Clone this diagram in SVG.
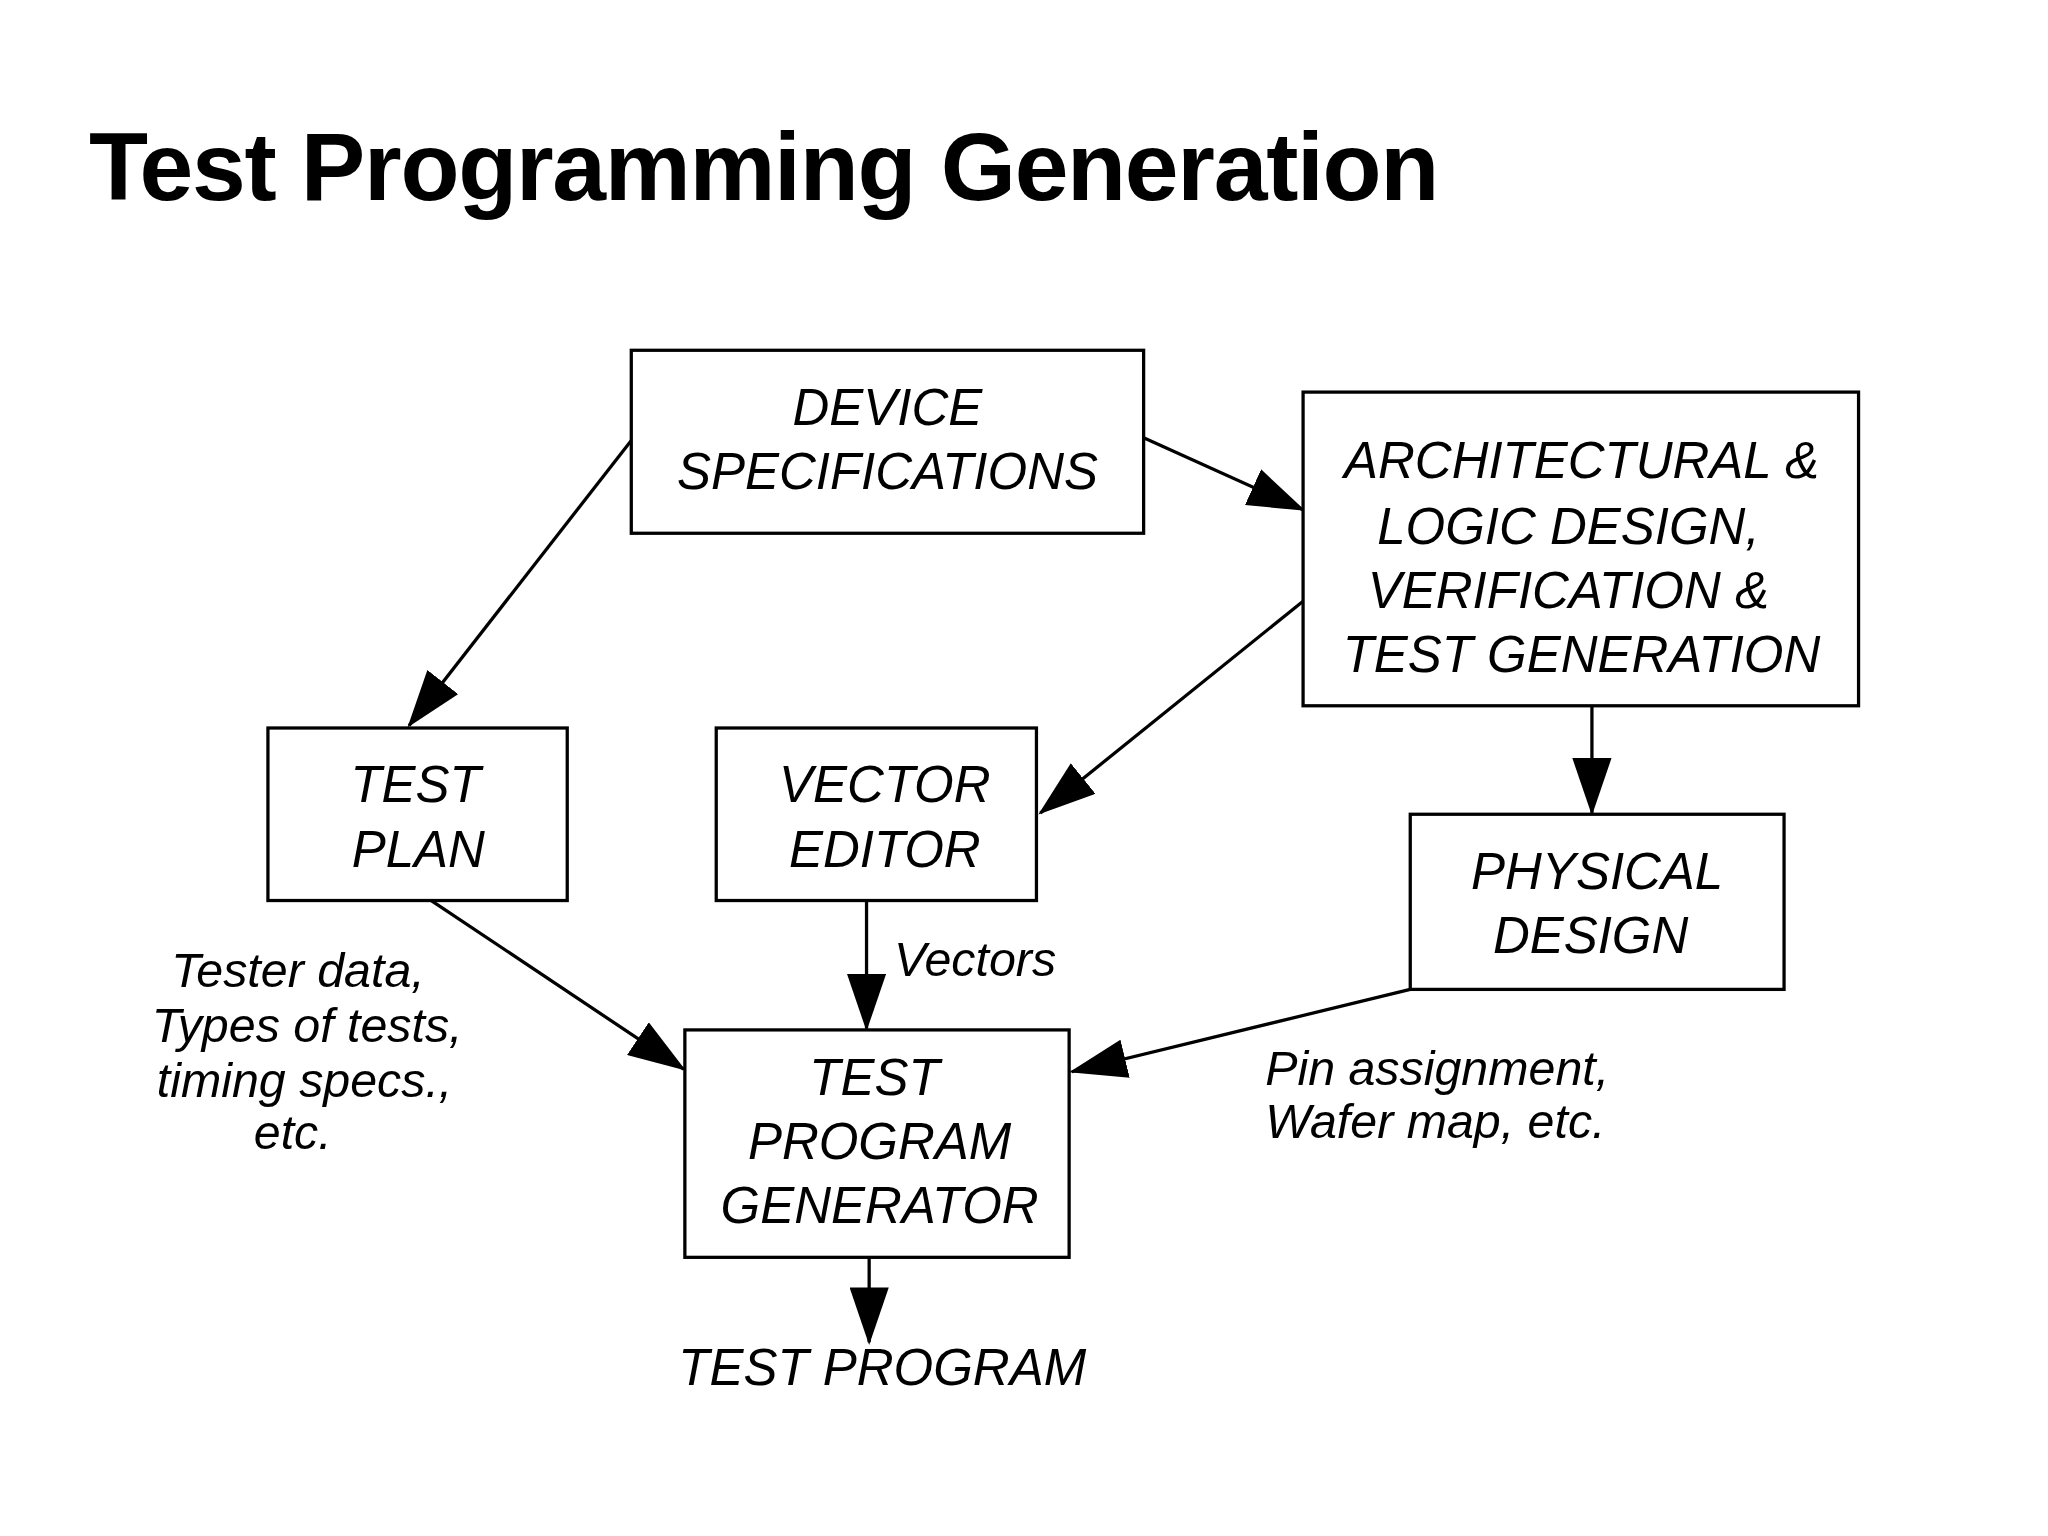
<svg xmlns="http://www.w3.org/2000/svg" width="2048" height="1536" viewBox="0 0 2048 1536">
<style>
.box{fill:#fff;stroke:#000;stroke-width:2.5}
.t{font-family:"Liberation Sans",Arial,sans-serif;font-style:italic;font-size:39px;text-anchor:middle;fill:#000}
.l{font-family:"Liberation Sans",Arial,sans-serif;font-style:italic;font-size:37px;fill:#000}
.c{stroke:#000;stroke-width:2.5;fill:none;marker-end:url(#a)}
</style>
<defs>
<marker id="a" markerUnits="userSpaceOnUse" markerWidth="44" markerHeight="30" refX="42" refY="15" orient="auto" viewBox="0 0 44 30">
<path d="M0,0 L44,15 L0,30 Z" fill="#000"/>
</marker>
</defs>
<rect width="2048" height="1536" fill="#fff"/>
<g transform="scale(1.307)">
<text x="68" y="153" font-family="Liberation Sans,Arial,sans-serif" font-weight="bold" font-size="74" letter-spacing="-1" fill="#000">Test Programming Generation</text>
<g id="connectors">
<path class="c" d="M483,337 L313,555"/>
<path class="c" d="M875,335 L997,390"/>
<path class="c" d="M997,460 L796,622"/>
<path class="c" d="M1218,540 L1218,622"/>
<path class="c" d="M330,689 L523,818"/>
<path class="c" d="M663,689 L663,787"/>
<path class="c" d="M1079,757 L820,820"/>
<path class="c" d="M665,962 L665,1027"/>
</g>
<g id="device"><rect class="box" x="483" y="268" width="392" height="140"/>
<text class="t" x="679" y="325">DEVICE</text><text class="t" x="679" y="374">SPECIFICATIONS</text></g>
<g id="arch"><rect class="box" x="997" y="300" width="425" height="240"/>
<text class="t" x="1210" y="366">ARCHITECTURAL &amp;</text><text class="t" x="1200" y="416">LOGIC DESIGN,</text>
<text class="t" x="1200" y="465">VERIFICATION &amp;</text><text class="t" x="1210" y="514">TEST GENERATION</text></g>
<g id="testplan"><rect class="box" x="205" y="557" width="229" height="132"/>
<text class="t" x="318" y="614">TEST</text><text class="t" x="320" y="663">PLAN</text></g>
<g id="vector"><rect class="box" x="548" y="557" width="245" height="132"/>
<text class="t" x="677" y="614">VECTOR</text><text class="t" x="677" y="663">EDITOR</text></g>
<g id="physical"><rect class="box" x="1079" y="623" width="286" height="134"/>
<text class="t" x="1222" y="680">PHYSICAL</text><text class="t" x="1217" y="729">DESIGN</text></g>
<g id="tpg"><rect class="box" x="524" y="788" width="294" height="174"/>
<text class="t" x="669" y="838">TEST</text><text class="t" x="673" y="887">PROGRAM</text><text class="t" x="673" y="936">GENERATOR</text></g>
<g id="labels">
<text class="t" x="675" y="1060">TEST PROGRAM</text>
<text class="l" x="684" y="747">Vectors</text>
<text class="l" x="968" y="830">Pin assignment,</text>
<text class="l" x="968" y="871">Wafer map, etc.</text>
<text class="l" text-anchor="middle" x="228" y="755">Tester data,</text>
<text class="l" text-anchor="middle" x="235" y="797">Types of tests,</text>
<text class="l" text-anchor="middle" x="233" y="839">timing specs.,</text>
<text class="l" text-anchor="middle" x="224" y="879">etc.</text>
</g>
</g>
</svg>
